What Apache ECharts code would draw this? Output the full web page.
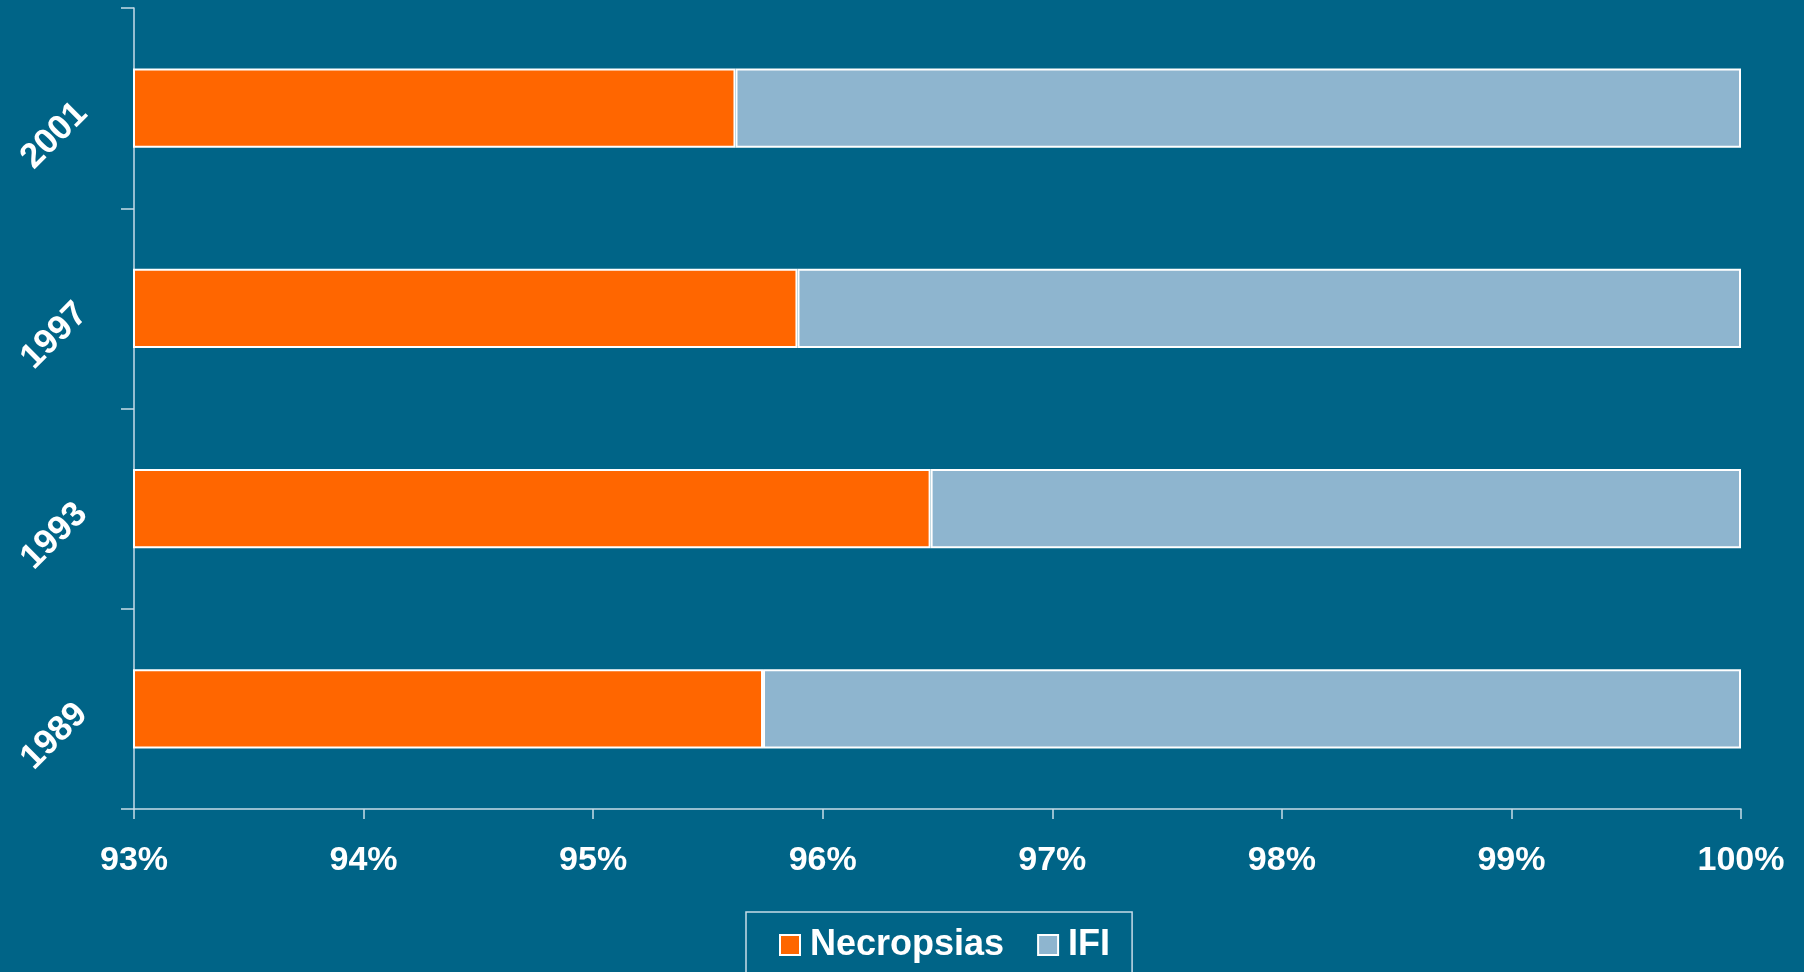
<!DOCTYPE html>
<html>
<head>
<meta charset="utf-8">
<title>Necropsias e IFI</title>
<script src="https://cdn.jsdelivr.net/npm/echarts@6/dist/echarts.min.js"></script>
<style>
  html, body { margin: 0; padding: 0; background: #006487; }
  #chart { width: 1804px; height: 972px; }
</style>
</head>
<body>
<div id="chart"></div>
<script>
// Years, bottom to top on the category axis
const years = ['1989', '1993', '1997', '2001'];
// Share of necropsies (%) per year
const necropsias = [95.74, 96.47, 95.89, 95.62];
// Share of invasive fungal infections (%) per year, completing 100%
const ifi = [4.26, 3.53, 4.11, 4.38];
// Value axis range and tick step (%)
const axisMin = 93;
const axisMax = 100;
const axisStep = 1;

const font = '"Liberation Sans", Arial, sans-serif';
const axisColor = '#c6dbe8';

const chart = echarts.init(document.getElementById('chart'), null, { renderer: 'canvas' });

chart.setOption({
  backgroundColor: '#006487',
  animation: false,
  grid: { left: 134, right: 63, top: 8, bottom: 163 },
  legend: {
    left: 746,
    top: 912,
    data: ['Necropsias', 'IFI'],
    icon: 'rect',
    itemWidth: 20,
    itemHeight: 20,
    itemGap: 33,
    padding: [15, 22, 30, 33],
    borderColor: axisColor,
    borderWidth: 1.5,
    textStyle: { color: '#ffffff', fontSize: 36, fontWeight: 'bold', fontFamily: font, padding: [0, 0, 0, 5] }
  },
  xAxis: {
    type: 'value',
    min: axisMin,
    max: axisMax,
    interval: axisStep,
    axisLine: { show: true, lineStyle: { color: axisColor, width: 1.5 } },
    axisTick: { show: true, length: 10, lineStyle: { color: axisColor, width: 1.5 } },
    splitLine: { show: false },
    axisLabel: {
      color: '#ffffff', fontSize: 34, fontWeight: 'bold', fontFamily: font, margin: 35,
      formatter: v => v + '%'
    }
  },
  yAxis: {
    type: 'category',
    data: years,
    axisLine: { show: true, lineStyle: { color: axisColor, width: 1.5 } },
    axisTick: { show: true, length: 13, lineStyle: { color: axisColor, width: 1.5 } },
    axisLabel: {
      color: '#ffffff', fontSize: 35, fontWeight: 'bold', fontFamily: font,
      rotate: 45, margin: 52
    }
  },
  series: [
    {
      name: 'Necropsias',
      type: 'bar',
      stack: 'total',
      data: necropsias,
      barWidth: '39.5%',
      itemStyle: { color: '#ff6600', borderColor: '#ffffff', borderWidth: 2 }
    },
    {
      name: 'IFI',
      type: 'bar',
      stack: 'total',
      data: ifi,
      barWidth: '39.5%',
      itemStyle: { color: '#8eb5cf', borderColor: '#ffffff', borderWidth: 2 }
    }
  ]
});
</script>
</body>
</html>
